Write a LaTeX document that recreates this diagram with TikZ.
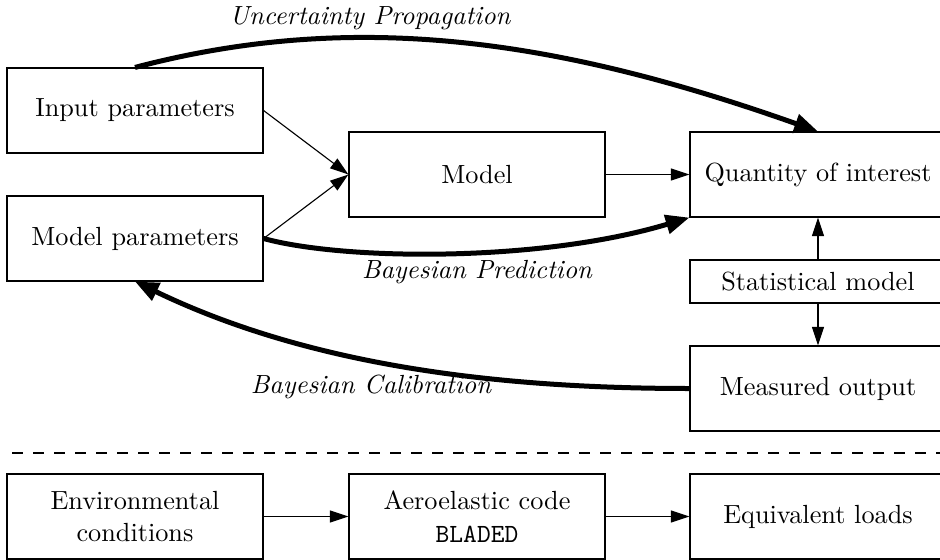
\documentclass[tikz,border=0pt]{standalone}
\usetikzlibrary{arrows.meta}
\begin{document}
\begin{tikzpicture}[x=0.4pt,y=-0.4pt,
  box/.style={draw, line width=0.45pt, minimum width=102.4pt, minimum height=34pt, inner sep=0pt, align=center, font=\fontsize{10.5}{13}\selectfont},
  thinarrow/.style={line width=0.45pt, -{Triangle[length=7.4pt,width=4.8pt]}},
  thickarrow/.style={line width=2pt, -{Triangle[length=9.5pt,width=7.5pt]}},
  lab/.style={font=\fontsize{10.5}{13}\selectfont\itshape},
  sep/.style={line width=0.45pt, dash pattern=on 4.4pt off 4pt}]
\useasboundingbox (0,0) rectangle (940,560);
\clip (0,0) rectangle (940,560);
\node[box] (in) at (135,110.5) {Input parameters};
\node[box] (mp) at (135,238.5) {Model parameters};
\node[box] (model) at (477,174.5) {Model};
\node[box] (qoi) at (818,174.5) {Quantity of interest};
\node[box, minimum height=17.2pt] (stat) at (818,281.5) {Statistical model};
\node[box] (meas) at (818,388.5) {Measured output};
\node[box] (env) at (135,516.5) {Environmental\\conditions};
\node[box] (aero) at (477,516.5) {Aeroelastic code\\\texttt{BLADED}};
\node[box] (eq) at (818,516.5) {Equivalent loads};
\draw[thinarrow] (in.east) -- (model.west);
\draw[thinarrow] (mp.east) -- (model.west);
\draw[thinarrow] (model.east) -- (qoi.west);
\draw[thinarrow] (stat.north) -- (qoi.south);
\draw[thinarrow] (stat.south) -- (meas.north);
\draw[thinarrow] (env.east) -- (aero.west);
\draw[thinarrow] (aero.east) -- (eq.west);
\draw[thickarrow] (in.north) .. controls +(220,-58) and +(-260,-92) .. (qoi.north);
\draw[thickarrow] (mp.east) .. controls +(80,22) and +(-150,45) .. (qoi.south west);
\draw[thickarrow] (meas.west) .. controls +(-200,0) and +(170,82) .. (mp.south);
\node[lab] (lup) at (370,18) {Uncertainty Propagation};
\node[lab] (lbp) at (477,272) {Bayesian Prediction};
\node[lab] (lbc) at (371,387) {Bayesian Calibration};
\coordinate (d1) at (12,453);
\coordinate (d2) at (940,453);
\draw[sep] (d1) -- (d2);
\end{tikzpicture}
\end{document}
